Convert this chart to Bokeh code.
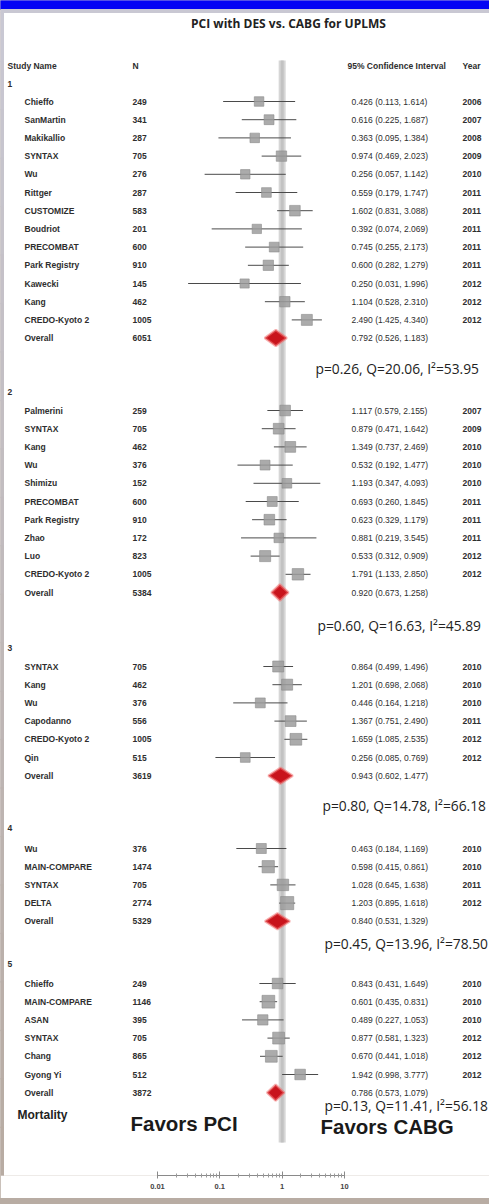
import math

from bokeh.core.properties import value
from bokeh.embed import file_html
from bokeh.layouts import column
from bokeh.models import ColumnDataSource, FixedTicker, LogAxis, LogScale, Range1d
from bokeh.plotting import figure
from bokeh.resources import INLINE

TITLE = "PCI with DES vs. CABG for UPLMS"

# ---- subgroup 1 ----
g1_study = ["Chieffo", "SanMartin", "Makikallio", "SYNTAX", "Wu", "Rittger", "CUSTOMIZE",
            "Boudriot", "PRECOMBAT", "Park Registry", "Kawecki", "Kang", "CREDO-Kyoto 2"]
g1_n = [249, 341, 287, 705, 276, 287, 583, 201, 600, 910, 145, 462, 1005]
g1_est = [0.426, 0.616, 0.363, 0.974, 0.256, 0.559, 1.602, 0.392, 0.745, 0.600, 0.250, 1.104, 2.490]
g1_lo = [0.113, 0.225, 0.095, 0.469, 0.057, 0.179, 0.831, 0.074, 0.255, 0.282, 0.031, 0.528, 1.425]
g1_hi = [1.614, 1.687, 1.384, 2.023, 1.142, 1.747, 3.088, 2.069, 2.173, 1.279, 1.996, 2.310, 4.340]
g1_year = [2006, 2007, 2008, 2009, 2010, 2011, 2011, 2011, 2011, 2011, 2012, 2012, 2012]
g1_overall = [6051, 0.792, 0.526, 1.183]
g1_stats = "p=0.26, Q=20.06, I²=53.95"

# ---- subgroup 2 ----
g2_study = ["Palmerini", "SYNTAX", "Kang", "Wu", "Shimizu", "PRECOMBAT", "Park Registry",
            "Zhao", "Luo", "CREDO-Kyoto 2"]
g2_n = [259, 705, 462, 376, 152, 600, 910, 172, 823, 1005]
g2_est = [1.117, 0.879, 1.349, 0.532, 1.193, 0.693, 0.623, 0.881, 0.533, 1.791]
g2_lo = [0.579, 0.471, 0.737, 0.192, 0.347, 0.260, 0.329, 0.219, 0.312, 1.133]
g2_hi = [2.155, 1.642, 2.469, 1.477, 4.093, 1.845, 1.179, 3.545, 0.909, 2.850]
g2_year = [2007, 2009, 2010, 2010, 2010, 2011, 2011, 2011, 2012, 2012]
g2_overall = [5384, 0.920, 0.673, 1.258]
g2_stats = "p=0.60, Q=16.63, I²=45.89"

# ---- subgroup 3 ----
g3_study = ["SYNTAX", "Kang", "Wu", "Capodanno", "CREDO-Kyoto 2", "Qin"]
g3_n = [705, 462, 376, 556, 1005, 515]
g3_est = [0.864, 1.201, 0.446, 1.367, 1.659, 0.256]
g3_lo = [0.499, 0.698, 0.164, 0.751, 1.085, 0.085]
g3_hi = [1.496, 2.068, 1.218, 2.490, 2.535, 0.769]
g3_year = [2010, 2010, 2010, 2011, 2012, 2012]
g3_overall = [3619, 0.943, 0.602, 1.477]
g3_stats = "p=0.80, Q=14.78, I²=66.18"

# ---- subgroup 4 ----
g4_study = ["Wu", "MAIN-COMPARE", "SYNTAX", "DELTA"]
g4_n = [376, 1474, 705, 2774]
g4_est = [0.463, 0.598, 1.028, 1.203]
g4_lo = [0.184, 0.415, 0.645, 0.895]
g4_hi = [1.169, 0.861, 1.638, 1.618]
g4_year = [2010, 2010, 2011, 2012]
g4_overall = [5329, 0.840, 0.531, 1.329]
g4_stats = "p=0.45, Q=13.96, I²=78.50"

# ---- subgroup 5 ----
g5_study = ["Chieffo", "MAIN-COMPARE", "ASAN", "SYNTAX", "Chang", "Gyong Yi"]
g5_n = [249, 1146, 395, 705, 865, 512]
g5_est = [0.843, 0.601, 0.489, 0.877, 0.670, 1.942]
g5_lo = [0.431, 0.435, 0.227, 0.581, 0.441, 0.998]
g5_hi = [1.649, 0.831, 1.053, 1.323, 1.018, 3.777]
g5_year = [2010, 2010, 2010, 2012, 2012, 2012]
g5_overall = [3872, 0.786, 0.573, 1.079]
g5_stats = "p=0.13, Q=11.41, I²=56.18"

group_labels = ["1", "2", "3", "4", "5"]
groups = [
    (g1_study, g1_n, g1_est, g1_lo, g1_hi, g1_year, g1_overall, g1_stats),
    (g2_study, g2_n, g2_est, g2_lo, g2_hi, g2_year, g2_overall, g2_stats),
    (g3_study, g3_n, g3_est, g3_lo, g3_hi, g3_year, g3_overall, g3_stats),
    (g4_study, g4_n, g4_est, g4_lo, g4_hi, g4_year, g4_overall, g4_stats),
    (g5_study, g5_n, g5_est, g5_lo, g5_hi, g5_year, g5_overall, g5_stats),
]

axis_ticks = [0.01, 0.1, 1, 10]
axis_tick_labels = ["0.01", "0.1", "1", "10"]

# ---- page layout (pixel units) ----
W, H = 489, 1204
FRAME_H = 1175           # frame ends at the log-axis line
AXIS_H = 23              # axis panel below the frame
FIG_H = FRAME_H + AXIS_H

X_NUM, X_NAME, X_N, X_CI, X_YEAR = 7, 24, 132, 351, 462
HEADER_Y = 65
GROUP_Y = [83, 391, 647, 827, 963]
FIRST_ROW_Y = [101, 410, 666, 848, 983]
STATS_X = [315, 317, 322, 324, 324]
STATS_Y = [368, 625, 805, 943, 1105]
PITCH = 18.2
DIAMOND_HALF_H = 8

# log axis mapping: 0.01 sits at x=157 px, 10 at x=344 px
PX_LO, PX_HI = 157, 344
DECADE_PX = (PX_HI - PX_LO) / 3.0
or_start = 10 ** (-2 - PX_LO / DECADE_PX)
or_end = 10 ** (1 + (W - PX_HI) / DECADE_PX)

TEXT_FONT = value("Liberation Sans")
ROW_SIZE = "8.5px"
INK = "#2e2e2e"

# ---- assemble row sources ----
rows = dict(y=[], name=[], n=[], ci=[], year=[], est=[], lo=[], hi=[], size=[])
ov = dict(y=[], name=[], n=[], ci=[], dx=[], dy=[])
for g, (study, n, est, lo, hi, year, overall, _stats) in enumerate(groups):
    for i in range(len(study)):
        y = FIRST_ROW_Y[g] + i * PITCH
        se = (math.log(hi[i]) - math.log(lo[i])) / 3.92
        weight = 1.0 / se ** 2
        rows["y"].append(y)
        rows["name"].append(study[i])
        rows["n"].append(str(n[i]))
        rows["ci"].append(f"{est[i]:.3f} ({lo[i]:.3f}, {hi[i]:.3f})")
        rows["year"].append(str(year[i]))
        rows["est"].append(est[i])
        rows["lo"].append(lo[i])
        rows["hi"].append(hi[i])
        rows["size"].append(8.5 + 0.7 * math.sqrt(weight))
    y = FIRST_ROW_Y[g] + len(study) * PITCH
    on, oe, ol, oh = overall
    ov["y"].append(y)
    ov["name"].append("Overall")
    ov["n"].append(str(on))
    ov["ci"].append(f"{oe:.3f} ({ol:.3f}, {oh:.3f})")
    ov["dx"].append([ol, oe, oh, oe])
    ov["dy"].append([y, y - DIAMOND_HALF_H, y, y + DIAMOND_HALF_H])

rows_src = ColumnDataSource(rows)
ov_src = ColumnDataSource(ov)

p = figure(width=W, height=FIG_H, x_range=Range1d(0, W), y_range=Range1d(FRAME_H, 0),
           x_axis_type=None, y_axis_type=None, toolbar_location=None,
           output_backend="svg", min_border=0, min_border_bottom=AXIS_H,
           outline_line_color=None, background_fill_color="white",
           border_fill_color="white")
p.extra_x_ranges = {"or": Range1d(or_start, or_end)}
p.extra_x_scales = {"or": LogScale()}

# page chrome: blue top bar, grey rim, fading left edge
p.quad(left=0, right=W, top=0, bottom=9, color="#0404f4")
p.quad(left=0, right=W, top=9, bottom=12, color="#c9c8d3")
edge_top = (201, 200, 211)
edge_bot = (184, 172, 163)
steps = 24
for k in range(steps):
    t = k / (steps - 1)
    c = tuple(int(a + (b - a) * t) for a, b in zip(edge_top, edge_bot))
    y0 = 12 + (FRAME_H - 12) * k / steps
    y1 = 12 + (FRAME_H - 12) * (k + 1) / steps
    p.quad(left=0, right=3, top=y0, bottom=y1 + 0.5, color="#%02x%02x%02x" % c)

# line of no effect
p.segment(x0=1, y0=HEADER_Y - 5, x1=1, y1=1142, x_range_name="or",
          line_width=7, line_color="#d6d6d6")
p.segment(x0=1, y0=HEADER_Y - 5, x1=1, y1=1142, x_range_name="or",
          line_width=3, line_color="#c2c2c2")

# study estimates
p.segment(x0="lo", x1="hi", y0="y", y1="y", source=rows_src, x_range_name="or",
          line_color="#4a4a4a", line_width=1)
p.scatter(x="est", y="y", size="size", marker="square", source=rows_src,
          x_range_name="or", fill_color="#9c9c9c", fill_alpha=0.85,
          line_color="#8c8c8c", line_alpha=0.6)

# pooled estimates
p.patches(xs="dx", ys="dy", source=ov_src, x_range_name="or",
          fill_color="#c8141c", line_color="#f07070", line_width=2.5, line_alpha=0.55)

# title and column headers
p.text(x=[288], y=[23], text=[TITLE], text_font=value("Open Sans"), text_font_size="12px",
       text_font_style="bold", text_align="center", text_baseline="middle", text_color="#222222")
p.text(x=[X_NUM, X_N, X_CI - 4, X_YEAR], y=[HEADER_Y] * 4,
       text=["Study Name", "N", "95% Confidence Interval", "Year"],
       text_font=TEXT_FONT, text_font_size=ROW_SIZE, text_font_style="bold",
       text_baseline="middle", text_color=INK)
p.text(x=[X_NUM] * 5, y=GROUP_Y, text=group_labels, text_font=TEXT_FONT,
       text_font_size=ROW_SIZE, text_font_style="bold", text_baseline="middle", text_color=INK)

# row text columns
for src in (rows_src, ov_src):
    p.text(x=X_NAME, y="y", text="name", source=src, text_font=TEXT_FONT,
           text_font_size=ROW_SIZE, text_font_style="bold", text_baseline="middle", text_color=INK)
    p.text(x=X_N, y="y", text="n", source=src, text_font=TEXT_FONT,
           text_font_size=ROW_SIZE, text_font_style="bold", text_baseline="middle", text_color=INK)
    p.text(x=X_CI, y="y", text="ci", source=src, text_font=TEXT_FONT,
           text_font_size=ROW_SIZE, text_baseline="middle", text_color=INK)
p.text(x=X_YEAR, y="y", text="year", source=rows_src, text_font=TEXT_FONT,
       text_font_size=ROW_SIZE, text_font_style="bold", text_baseline="middle", text_color=INK)

# heterogeneity statistics
p.text(x=STATS_X, y=STATS_Y, text=[grp[7] for grp in groups], text_font=value("Open Sans"),
       text_font_size="13.8px", text_baseline="middle", text_color="#222222")

# bottom annotations
p.text(x=[17], y=[1114], text=["Mortality"], text_font=TEXT_FONT, text_font_size="12px",
       text_font_style="bold", text_baseline="middle", text_color="#222222")
p.text(x=[130, 320], y=[1123, 1126], text=["Favors PCI", "Favors CABG"], text_font=TEXT_FONT,
       text_font_size="20.5px", text_font_style="bold", text_baseline="middle",
       text_color="#1a1a1a")

# odds-ratio axis
minor = [k * 10.0 ** e for e in (-2, -1, 0) for k in range(2, 10)]
ax = LogAxis(x_range_name="or", ticker=FixedTicker(ticks=axis_ticks, minor_ticks=minor),
             bounds=(axis_ticks[0], axis_ticks[-1]),
             major_label_overrides={t: s for t, s in zip(axis_ticks, axis_tick_labels)},
             axis_line_color="#8a8a8a", major_tick_line_color="#8a8a8a",
             minor_tick_line_color="#9a9a9a", major_tick_in=4, major_tick_out=3,
             minor_tick_in=2, minor_tick_out=2, major_label_standoff=5,
             major_label_text_font="Liberation Sans", major_label_text_font_size="7.5px",
             major_label_text_font_style="bold", major_label_text_color="#444444")
p.add_layout(ax, "below")

page = column(p, width=W, height=H, sizing_mode="fixed",
              styles={"background-color": "#b8aca3"})

open("out.html", "w").write(file_html(page, INLINE))
